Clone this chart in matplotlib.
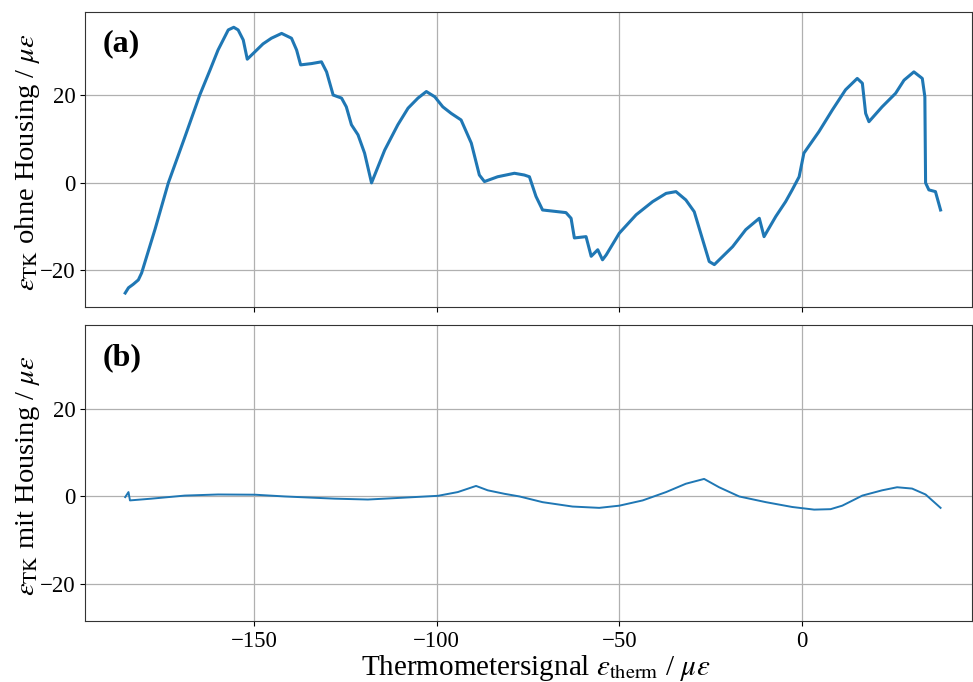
import matplotlib
matplotlib.use("Agg")
import matplotlib.pyplot as plt
import numpy as np

plt.rcParams['font.family'] = ['Liberation Serif', 'DejaVu Serif']
plt.rcParams['mathtext.fontset'] = 'stix'

# Panel (a): without housing
x_a = [-185.2, -184.3, -183.0, -181.6, -180.7, -177.0, -173.4, -169.0, -164.8, -162.0, -159.8, -157.0, -155.5, -154.3,
       -152.9, -151.8, -149.7, -147.5, -145.2, -142.4, -139.7, -138.3, -137.2, -134.2, -131.5,
       -130.1, -128.3, -126.0, -124.7, -123.3, -121.5, -119.7, -117.8, -114.2, -110.6,
       -107.8, -105.1, -102.8, -100.5, -98.3, -96.0, -93.3, -90.5, -88.3, -86.9,
       -83.3, -78.7, -76.0, -74.6, -72.8, -71.0, -64.6, -63.2, -62.3, -59.1,
       -57.7, -55.9, -54.6, -53.6, -50.0, -45.4, -40.9, -37.2, -34.5, -31.8,
       -29.5, -27.2, -25.4, -24.0, -19.0, -15.4, -11.7, -10.4, -7.2, -4.5,
       -2.7, -0.8, 0.5, 4.6, 8.3, 11.9, 15.1, 16.5, 17.4, 18.3,
       21.9, 25.6, 27.9, 30.6, 32.9, 33.6, 33.8, 34.7, 36.5, 37.9]
y_a = [-25.2, -24.0, -23.2, -22.2, -20.6, -10.5, 0.0, 10.2, 20.1, 25.8, 30.4, 35.0, 35.6, 35.0,
       32.7, 28.3, 30.0, 31.8, 33.1, 34.2, 33.1, 30.4, 27.0, 27.3, 27.7,
       25.4, 20.1, 19.4, 17.4, 13.3, 11.0, 6.8, 0.0, 7.5, 13.3,
       17.1, 19.4, 20.9, 19.7, 17.4, 15.9, 14.4, 9.1, 1.8, 0.3,
       1.4, 2.2, 1.8, 1.4, -3.1, -6.2, -6.8, -8.1, -12.6, -12.3,
       -16.8, -15.3, -17.6, -16.5, -11.5, -7.3, -4.3, -2.4, -2.0, -3.9,
       -6.6, -13.0, -18.0, -18.7, -14.6, -10.7, -8.1, -12.3, -7.7, -4.3,
       -1.6, 1.4, 6.8, 11.7, 16.7, 21.3, 23.9, 22.8, 15.9, 14.0,
       17.4, 20.5, 23.5, 25.4, 23.9, 19.7, 0.0, -1.6, -2.0, -6.2]

# Panel (b): with housing
x_b = [-185.2, -184.3, -183.9, -178.0, -168.9, -159.8, -149.7, -141.5, -127.9, -118.8,
       -109.6, -99.6, -94.2, -89.2, -86.0, -81.4, -77.3, -71.0, -62.8, -55.5,
       -50.0, -43.6, -37.2, -31.8, -26.8, -22.7, -17.2, -9.9, -2.7, 3.3,
       7.8, 11.0, 16.5, 21.9, 26.0, 30.1, 33.8, 37.9]
y_b = [-0.15, 1.0, -0.9, -0.5, 0.2, 0.45, 0.4, 0.0, -0.5, -0.7,
       -0.3, 0.15, 1.0, 2.4, 1.4, 0.6, 0.0, -1.3, -2.3, -2.6,
       -2.1, -0.9, 1.0, 2.9, 4.0, 2.1, 0.0, -1.3, -2.4, -3.0,
       -2.9, -2.1, 0.2, 1.4, 2.1, 1.8, 0.45, -2.6]

panel_labels = ['(a)', '(b)']
ylabels = [r'$\varepsilon_{\mathrm{TK}}$ ohne Housing / $\mu\varepsilon$',
           r'$\varepsilon_{\mathrm{TK}}$ mit Housing / $\mu\varepsilon$']
xlabel = r'Thermometersignal $\varepsilon_{\mathrm{therm}}$ / $\mu\varepsilon$'

fig = plt.figure(figsize=(9.73, 6.82), dpi=100)
ax1 = fig.add_axes([85/973, 1 - 307/682, 887/973, 295/682])
ax2 = fig.add_axes([85/973, 1 - 621/682, 887/973, 296/682], sharex=ax1, sharey=ax1)

color = '#1f77b4'
ax1.plot(x_a, y_a, color=color, lw=2.2)
ax2.plot(x_b, y_b, color=color, lw=1.4)

for ax, lab, yl in zip([ax1, ax2], panel_labels, ylabels):
    ax.grid(True, color='#b0b0b0', lw=0.9)
    ax.set_axisbelow(True)
    ax.text(0.02, 0.94, lab, transform=ax.transAxes, fontsize=23,
            fontweight='bold', va='top', ha='left')
    ax.set_ylabel(yl, fontsize=20.5)
    ax.yaxis.set_label_coords(-0.049, 0.49)
    ax.tick_params(labelsize=16.5)
    for s in ax.spines.values():
        s.set_color('#333333')

ax1.tick_params(labelbottom=False)
ax1.set_xlim(-196.2, 46.5)
ax1.set_ylim(-28.4, 39.1)
ax1.set_xticks([-150, -100, -50, 0])
ax1.set_yticks([-20, 0, 20])
ax2.set_xlabel(xlabel, fontsize=21)
ax2.xaxis.set_label_coords(0.508, -0.108)

fig.savefig('out.png', dpi=100)
